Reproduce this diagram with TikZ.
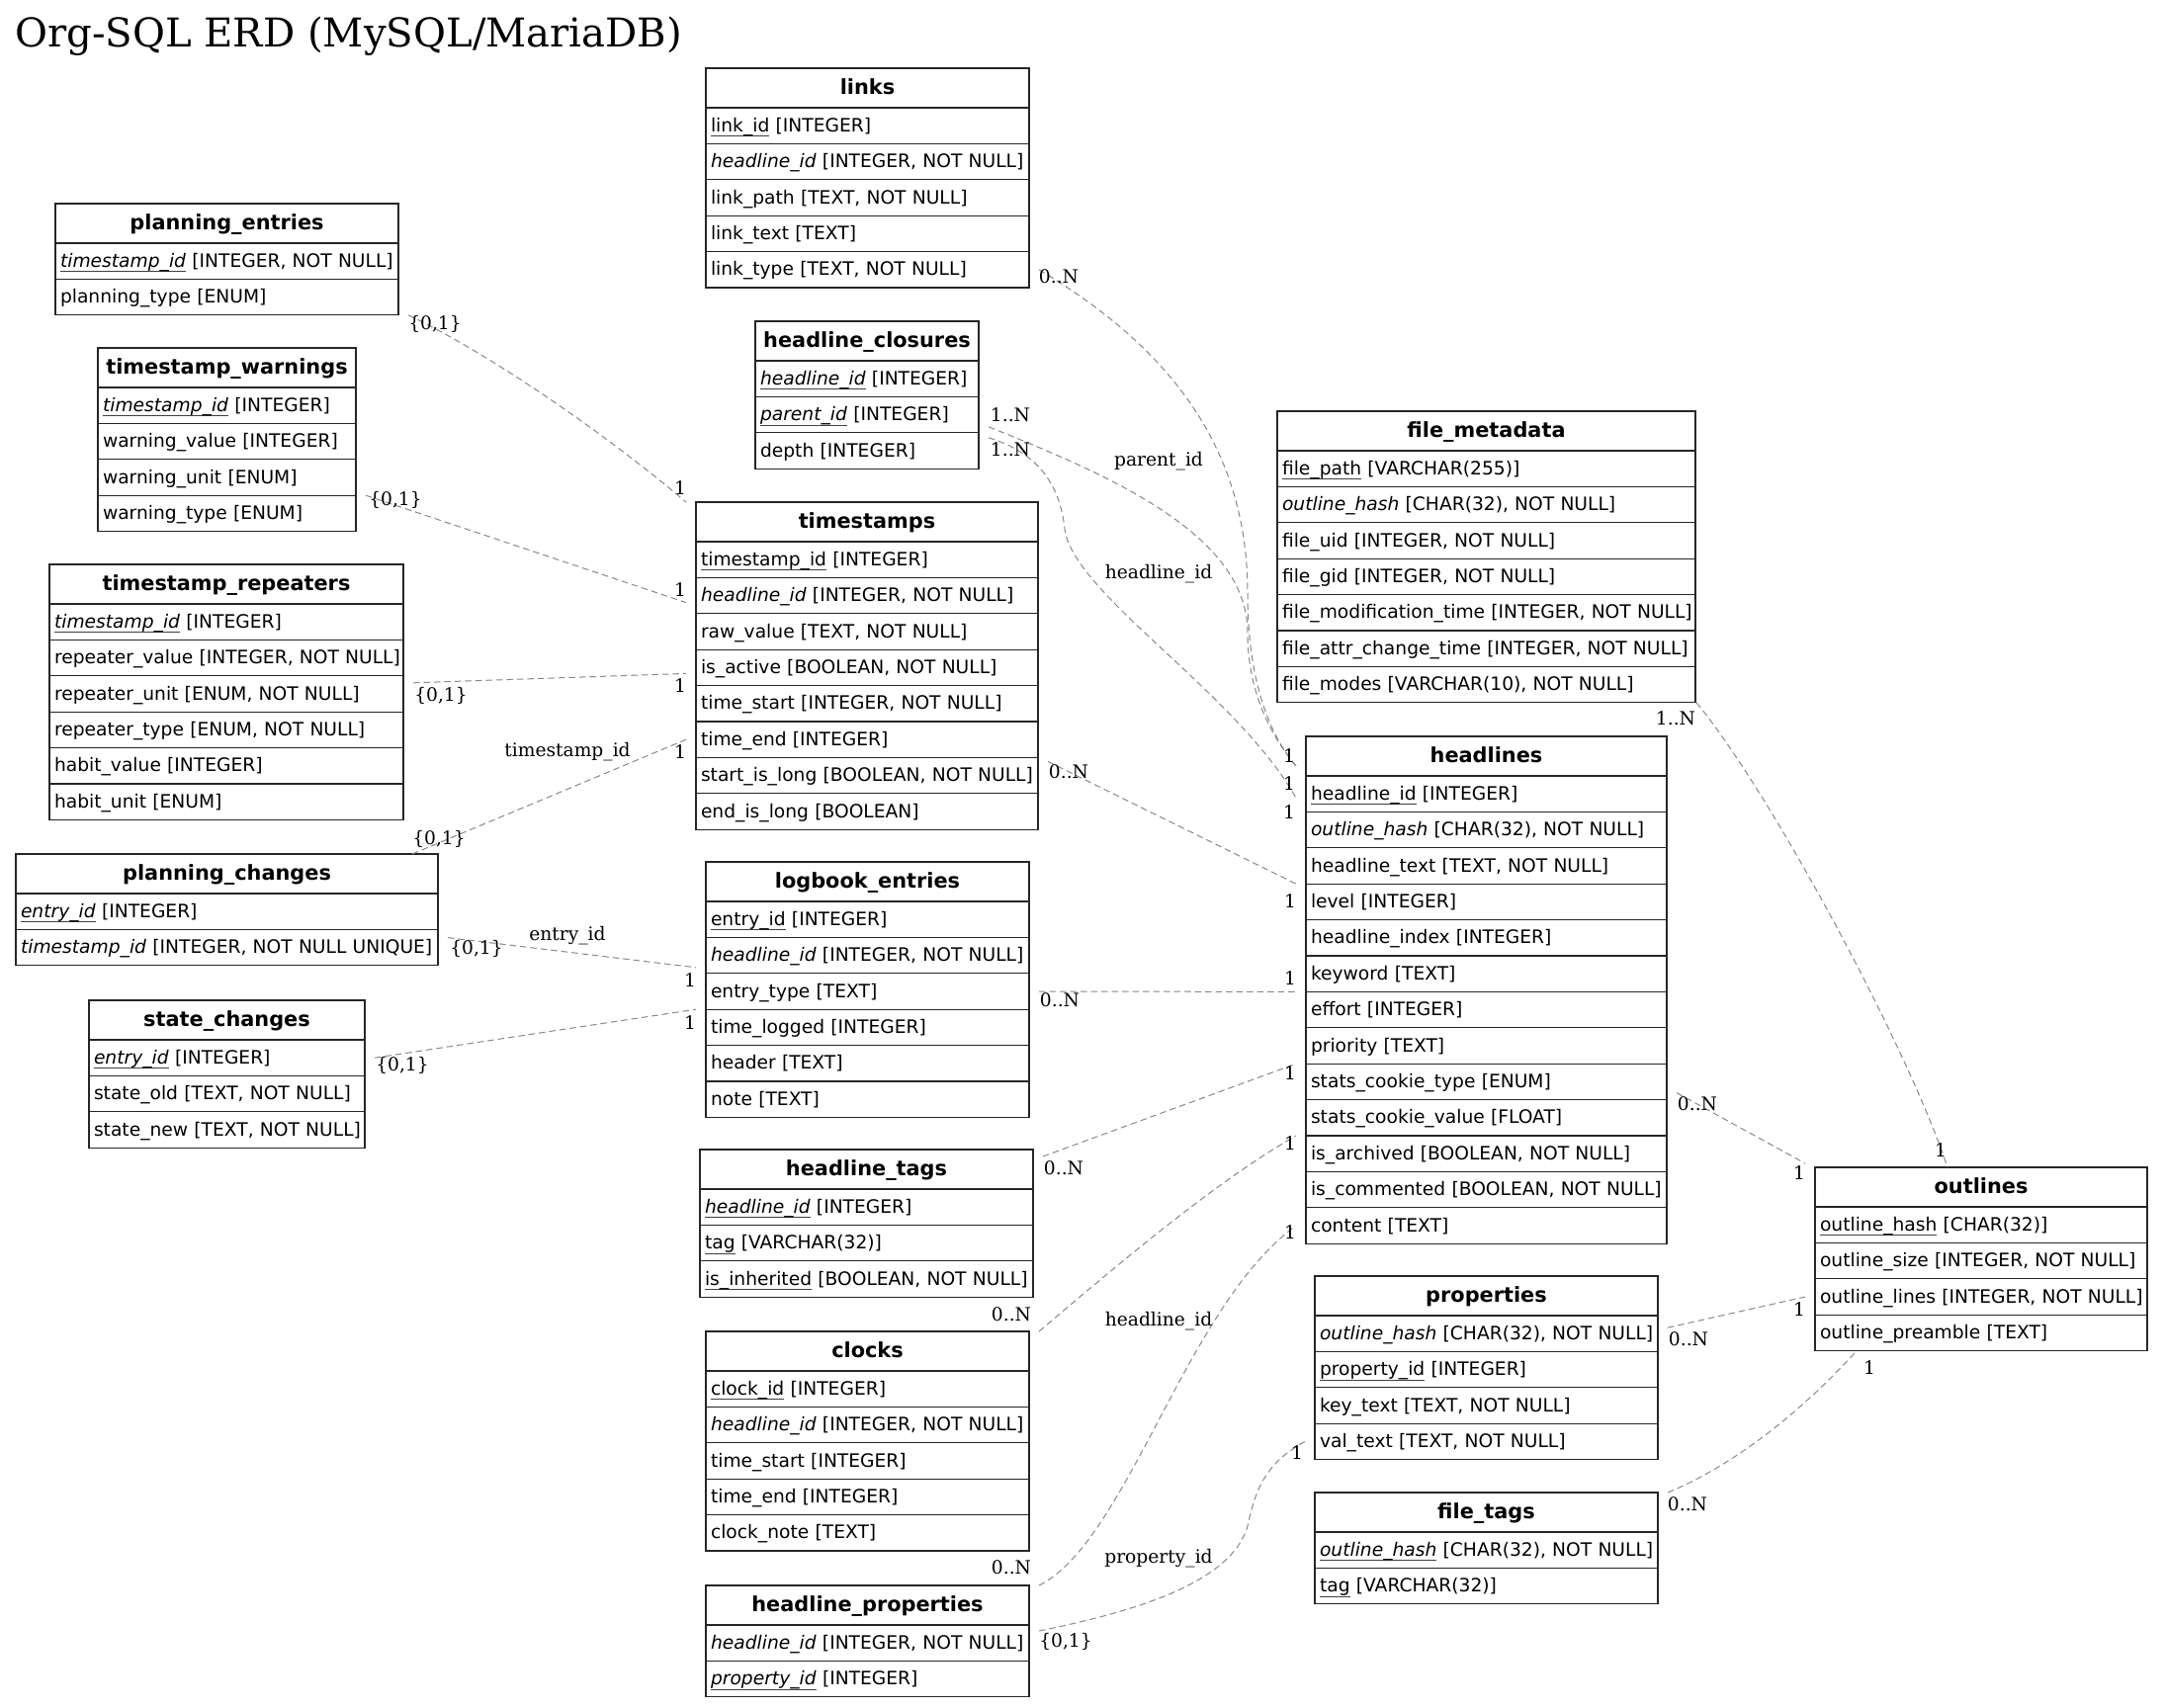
\documentclass[tikz,border=0pt]{standalone}
\usepackage{fontspec}
\setmainfont{DejaVu Serif}
\newfontfamily\tblfont{DejaVu Sans}
\definecolor{edgegray}{RGB}{136,136,136}
\newcommand{\tsize}{\fontsize{18.67pt}{22pt}\selectfont}
\newcommand{\headsize}{\fontsize{20.85pt}{24pt}\selectfont}
\newcommand{\pkey}[1]{\setbox0=\hbox{#1}\rlap{\color{black!75}\rule[-5pt]{\wd0}{1.1pt}}\box0\relax}
\tikzset{tblcell/.style = {draw=black!85, line width=1.2pt, anchor=north west, inner xsep=5pt, inner ysep=0pt,
                           outer xsep=10pt, outer ysep=0pt, text height=14pt, text depth=2pt},
         tblhead/.style = {tblcell, minimum height=40pt, align=center, text height=15pt, font=\tblfont\headsize\bfseries},
         tblrow/.style = {tblcell, minimum height=36.4pt, align=left, font=\tblfont\tsize},
         rel/.style = {draw=edgegray, line width=1pt, dash pattern=on 6.5pt off 4pt},
         card/.style = {inner sep=0pt, font=\tsize}}
\newcommand{\erdtable}[6]{%
    \pgfmathsetmacro{\tblw}{#4-10}%
    \node[tblhead, text width=\tblw pt] (#1) at (#2-10,#3) {#5};
    \foreach \fld [count=\idx] in {#6}
        \node[tblrow, text width=\tblw pt] (#1-\idx) at (#2-10,{#3+40+(\idx-1)*36.4}) {\mbox{\fld}};
}
\begin{document}
\begin{tikzpicture}[x=1pt,y=-1pt]
                    \path[use as bounding box, fill=white] (0,0) rectangle (2189,1727);
                    \node[anchor=base west, inner sep=0pt, font=\fontsize{40.2pt}{48pt}\selectfont] (title) at (15,47) {Org-SQL ERD (MySQL/MariaDB)};
                    \erdtable{links}{714}{69}{327}{links}{{\pkey{link\_id} [INTEGER]},{\textit{headline\_id} [INTEGER, NOT NULL]},{link\_path [TEXT, NOT NULL]},{link\_text [TEXT]},{link\_type [TEXT, NOT NULL]}}
                    \erdtable{hclos}{764}{325}{226}{headline\_closures}{{\pkey{\textit{headline\_id}} [INTEGER]},{\pkey{\textit{parent\_id}} [INTEGER]},{depth [INTEGER]}}
                    \erdtable{plent}{56}{206}{347}{planning\_entries}{{\pkey{\textit{timestamp\_id}} [INTEGER, NOT NULL]},{planning\_type [ENUM]}}
                    \erdtable{twarn}{99}{352}{261}{timestamp\_warnings}{{\pkey{\textit{timestamp\_id}} [INTEGER]},{warning\_value [INTEGER]},{warning\_unit [ENUM]},{warning\_type [ENUM]}}
                    \erdtable{trep}{50}{571}{358}{timestamp\_repeaters}{{\pkey{\textit{timestamp\_id}} [INTEGER]},{repeater\_value [INTEGER, NOT NULL]},{repeater\_unit [ENUM, NOT NULL]},{repeater\_type [ENUM, NOT NULL]},{habit\_value [INTEGER]},{habit\_unit [ENUM]}}
                    \erdtable{tstamps}{704}{508}{346}{timestamps}{{\pkey{timestamp\_id} [INTEGER]},{\textit{headline\_id} [INTEGER, NOT NULL]},{raw\_value [TEXT, NOT NULL]},{is\_active [BOOLEAN, NOT NULL]},{time\_start [INTEGER, NOT NULL]},{time\_end [INTEGER]},{start\_is\_long [BOOLEAN, NOT NULL]},{end\_is\_long [BOOLEAN]}}
                    \erdtable{plchg}{16}{864}{427}{planning\_changes}{{\pkey{\textit{entry\_id}} [INTEGER]},{\textit{timestamp\_id} [INTEGER, NOT NULL UNIQUE]}}
                    \erdtable{logbk}{714}{872}{327}{logbook\_entries}{{\pkey{entry\_id} [INTEGER]},{\textit{headline\_id} [INTEGER, NOT NULL]},{entry\_type [TEXT]},{time\_logged [INTEGER]},{header [TEXT]},{note [TEXT]}}
                    \erdtable{stchg}{90}{1012}{279}{state\_changes}{{\pkey{\textit{entry\_id}} [INTEGER]},{state\_old [TEXT, NOT NULL]},{state\_new [TEXT, NOT NULL]}}
                    \erdtable{htags}{708}{1163}{337}{headline\_tags}{{\pkey{\textit{headline\_id}} [INTEGER]},{\pkey{tag} [VARCHAR(32)]},{\pkey{is\_inherited} [BOOLEAN, NOT NULL]}}
                    \erdtable{clocks}{714}{1347}{327}{clocks}{{\pkey{clock\_id} [INTEGER]},{\textit{headline\_id} [INTEGER, NOT NULL]},{time\_start [INTEGER]},{time\_end [INTEGER]},{clock\_note [TEXT]}}
                    \erdtable{hprops}{714}{1604}{327}{headline\_properties}{{\textit{headline\_id} [INTEGER, NOT NULL]},{\pkey{\textit{property\_id}} [INTEGER]}}
                    \erdtable{fmeta}{1292}{416}{423}{file\_metadata}{{\pkey{file\_path} [VARCHAR(255)]},{\textit{outline\_hash} [CHAR(32), NOT NULL]},{file\_uid [INTEGER, NOT NULL]},{file\_gid [INTEGER, NOT NULL]},{file\_modification\_time [INTEGER, NOT NULL]},{file\_attr\_change\_time [INTEGER, NOT NULL]},{file\_modes [VARCHAR(10), NOT NULL]}}
                    \erdtable{hlines}{1321}{745}{365}{headlines}{{\pkey{headline\_id} [INTEGER]},{\textit{outline\_hash} [CHAR(32), NOT NULL]},{headline\_text [TEXT, NOT NULL]},{level [INTEGER]},{headline\_index [INTEGER]},{keyword [TEXT]},{effort [INTEGER]},{priority [TEXT]},{stats\_cookie\_type [ENUM]},{stats\_cookie\_value [FLOAT]},{is\_archived [BOOLEAN, NOT NULL]},{is\_commented [BOOLEAN, NOT NULL]},{content [TEXT]}}
                    \erdtable{props}{1330}{1291}{347}{properties}{{\textit{outline\_hash} [CHAR(32), NOT NULL]},{\pkey{property\_id} [INTEGER]},{key\_text [TEXT, NOT NULL]},{val\_text [TEXT, NOT NULL]}}
                    \erdtable{ftags}{1330}{1510}{347}{file\_tags}{{\pkey{\textit{outline\_hash}} [CHAR(32), NOT NULL]},{\pkey{tag} [VARCHAR(32)]}}
                    \erdtable{outl}{1836}{1181}{336}{outlines}{{\pkey{outline\_hash} [CHAR(32)]},{outline\_size [INTEGER, NOT NULL]},{outline\_lines [INTEGER, NOT NULL]},{outline\_preamble [TEXT]}}
                    \draw[rel] (links-5.east) .. controls (1180,350) and (1262,450) .. (1262,600) .. controls (1262,700) and (1290,750) .. ([yshift=-10pt]hlines.west);
                    \draw[rel] ([yshift=6pt]hclos-2.south east) .. controls (1120,480) and (1262,540) .. (1262,640) .. controls (1262,705) and (1290,750) .. ([yshift=-10pt]hlines.west);
                    \draw[rel] ([yshift=-5pt]hclos-3.north east) .. controls (1050,458) and (1072,490) .. (1077,535) .. controls (1085,600) and (1250,700) .. ([yshift=-4pt]hlines-1.west);
                    \draw[rel] ([yshift=-4pt]tstamps-7.north east) -- (hlines-4.north west);
                    \draw[rel] (logbk-3.east) -- (hlines-6.south west);
                    \draw[rel] ([yshift=-7pt]htags.north east) -- (hlines-9.north west);
                    \draw[rel] (clocks.north east) .. controls (1130,1280) and (1230,1195) .. (hlines-11.north west);
                    \draw[rel] (hprops.north east) .. controls (1140,1560) and (1200,1320) .. (hlines-13.west);
                    \draw[rel] ([yshift=-6pt]hprops-1.north east) .. controls (1150,1630) and (1250,1600) .. (1263,1540) .. controls (1272,1495) and (1290,1475) .. (props-4.west);
                    \draw[rel] ([yshift=7pt]hlines-10.north east) -- ([yshift=4pt]outl.north west);
                    \draw[rel] ([xshift=-9pt]fmeta-7.south east) .. controls (1790,800) and (1930,1060) .. ([xshift=-34pt]outl.north);
                    \draw[rel] ([yshift=6pt]props-1.east) -- (outl-3.west);
                    \draw[rel] (ftags.north east) .. controls (1760,1480) and (1830,1420) .. ([xshift=52pt]outl-4.south west);
                    \draw[rel] (plent-2.south east) .. controls (500,360) and (620,445) .. (tstamps.north west);
                    \draw[rel] (twarn-3.south east) -- ([yshift=-7pt]tstamps-2.west);
                    \draw[rel] ([yshift=-7pt]trep-3.north east) -- ([yshift=-6pt]tstamps-4.west);
                    \draw[rel] ([xshift=-36pt]plchg.north east) -- (tstamps-6.west);
                    \draw[rel] ([yshift=10pt]plchg-2.east) -- ([yshift=6pt]logbk-2.south west);
                    \draw[rel] (stchg-1.east) -- (logbk-4.north west);
                    \foreach \nm/\px/\py/\txt in {e1a/1071/280/{0..N}, e1b/1304/765/1,
                        e2a/1022/420/{1..N}, e2b/1304/793/1, e2c/1172/467/parent\_id,
                        e3a/1022/455/{1..N}, e3b/1304/822/1, e3c/1172/581/headline\_id,
                        e4a/1081/781/{0..N}, e4b/1305/912/1, e5a/1072/1012/{0..N}, e5b/1305/990/1,
                        e6a/1076/1182/{0..N}, e6b/1305/1086/1, e7a/1023/1330/{0..N}, e7b/1305/1157/1,
                        e8a/1023/1586/{0..N}, e8b/1305/1247/1, e8c/1172/1337/headline\_id,
                        e9a/1078/1661/{\{0,1\}}, e9b/1312/1470/1, e9c/1172/1577/property\_id,
                        e10a/1717/1117/{0..N}, e10b/1820/1187/1, e11a/1695/727/{1..N}, e11b/1963/1164/1,
                        e12a/1708/1355/{0..N}, e12b/1820/1325/1, e13a/1707/1522/{0..N}, e13b/1891/1384/1,
                        e14a/440/328/{\{0,1\}}, e14b/688/494/1, e15a/400/506/{\{0,1\}}, e15b/688/597/1,
                        e16a/446/704/{\{0,1\}}, e16b/688/694/1,
                        e17a/444/849/{\{0,1\}}, e17b/688/761/1, e17c/574/761/timestamp\_id,
                        e18a/482/960/{\{0,1\}}, e18b/698/992/1, e18c/574/947/entry\_id,
                        e19a/407/1078/{\{0,1\}}, e19b/698/1035/1}
                        \node[card] (\nm) at (\px,\py) {\txt};
                \end{tikzpicture}
\end{document}
